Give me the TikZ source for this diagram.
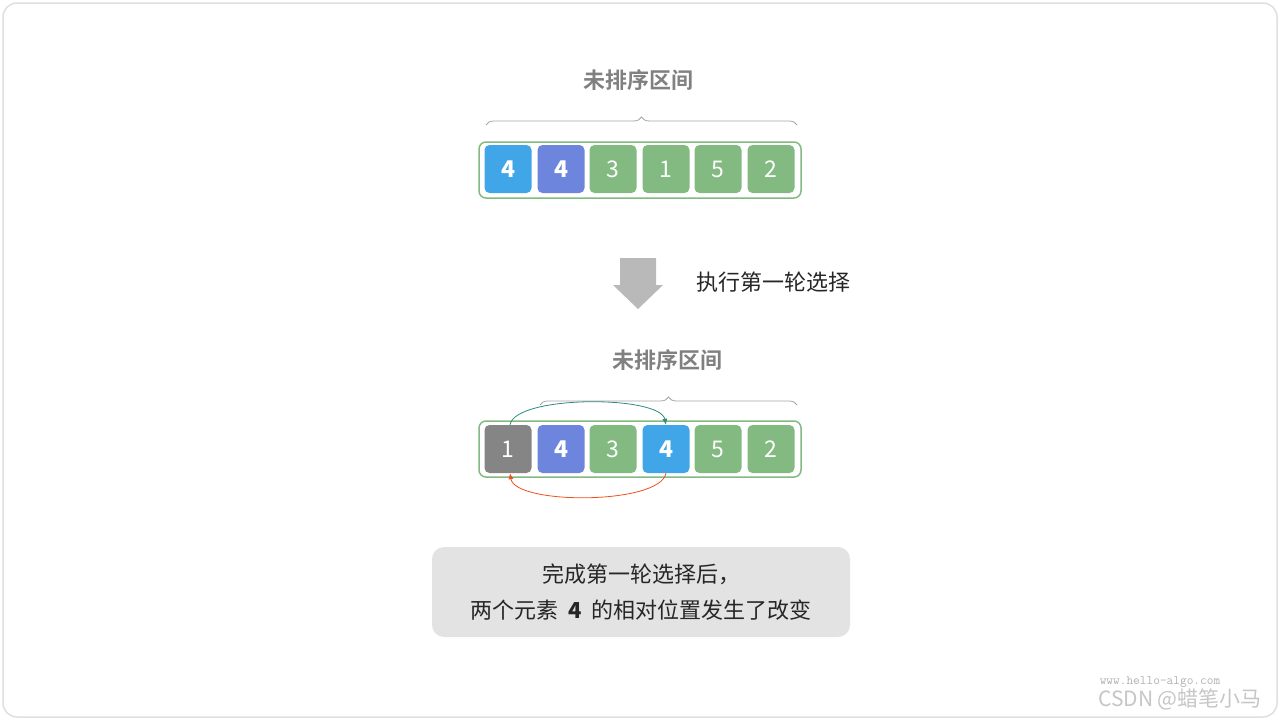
\documentclass[tikz,border=0pt]{standalone}
\usepackage{fontspec}
\setmainfont{Noto Sans CJK SC}
\newfontfamily\cjkbold{Noto Sans CJK SC Bold}
\usetikzlibrary{decorations.pathreplacing,arrows.meta}
\definecolor{cellgreen}{HTML}{82BA81}
\definecolor{cellblue}{HTML}{40A6E8}
\definecolor{cellpurple}{HTML}{6E85DE}
\definecolor{cellgray}{HTML}{858585}
\definecolor{teal}{HTML}{2E8B7E}
\definecolor{orangered}{HTML}{F0501E}
\begin{document}
\begin{tikzpicture}[x=1pt,y=-1pt]
\tikzset{
  cell/.style={rectangle,rounded corners=5pt,minimum width=47pt,minimum height=48pt,text=white,font=\fontsize{23}{23}\selectfont,inner sep=0pt},
  frame/.style={draw=cellgreen,line width=1.5pt,rounded corners=7pt},
  title/.style={font=\cjkbold\fontsize{22}{22}\selectfont,text=gray},
  brace/.style={decorate,decoration={brace,amplitude=8pt},draw=gray!70,line width=0.8pt}
}
\useasboundingbox (0,0) rectangle (1280,720);
\draw[draw=gray!25,line width=1.5pt,rounded corners=14pt,fill=white] (3,3) rectangle (1277,717);
% top array
\draw[frame] (479,142) rectangle (801,198);
\node[cell,fill=cellblue] (ta) at (508,169) {\bfseries 4};
\node[cell,fill=cellpurple] (tb) at (561,169) {\bfseries 4};
\node[cell,fill=cellgreen] (tc) at (613,169) {3};
\node[cell,fill=cellgreen] (td) at (666,169) {1};
\node[cell,fill=cellgreen] (te) at (718,169) {5};
\node[cell,fill=cellgreen] (tf) at (771,169) {2};
\draw[brace] (486,125) -- (797,125);
\node[title] (ttop) at (638,80) {未排序区间};
% step arrow
\fill[gray!55] (620,258) -- (656,258) -- (656,285) -- (663,285) -- (638,309) -- (613,285) -- (620,285) -- cycle;
\node[font=\fontsize{22}{22}\selectfont,text=black!85] (stept) at (773,282) {执行第一轮选择};
% bottom array
\draw[frame] (479,421) rectangle (801,477);
\node[cell,fill=cellgray] (ba) at (508,449) {1};
\node[cell,fill=cellpurple] (bb) at (561,449) {\bfseries 4};
\node[cell,fill=cellgreen] (bc) at (613,449) {3};
\node[cell,fill=cellblue] (bd) at (666,449) {\bfseries 4};
\node[cell,fill=cellgreen] (be) at (718,449) {5};
\node[cell,fill=cellgreen] (bf) at (771,449) {2};
\draw[brace] (540,405) -- (797,405);
\node[title] (tbot) at (667,360) {未排序区间};
\draw[teal,line width=0.8pt,-{Latex[length=6pt,width=5pt]}] ([xshift=2pt]ba.north) .. controls (515,395) and (660,395) .. (bd.north);
\draw[orangered,line width=0.8pt,-{Latex[length=6pt,width=5pt]}] (bd.south) .. controls (660,505) and (515,505) .. ([xshift=2pt]ba.south);
% note
\node[fill=gray!22,rounded corners=12pt,minimum width=418pt,minimum height=90pt,align=center,font=\fontsize{22}{36}\selectfont,text=black!85] (note) at (641,592) {完成第一轮选择后，\\两个元素 \ {\bfseries 4} \ 的相对位置发生了改变};
% watermark
\node[font=\ttfamily\fontsize{13}{13}\selectfont,text=gray!60] (wm) at (1160,682) {www.hello-algo.com};
\node[font=\fontsize{21}{21}\selectfont,text=gray!45] (csdn) at (1180,699) {CSDN @蜡笔小马};
\end{tikzpicture}
\end{document}
